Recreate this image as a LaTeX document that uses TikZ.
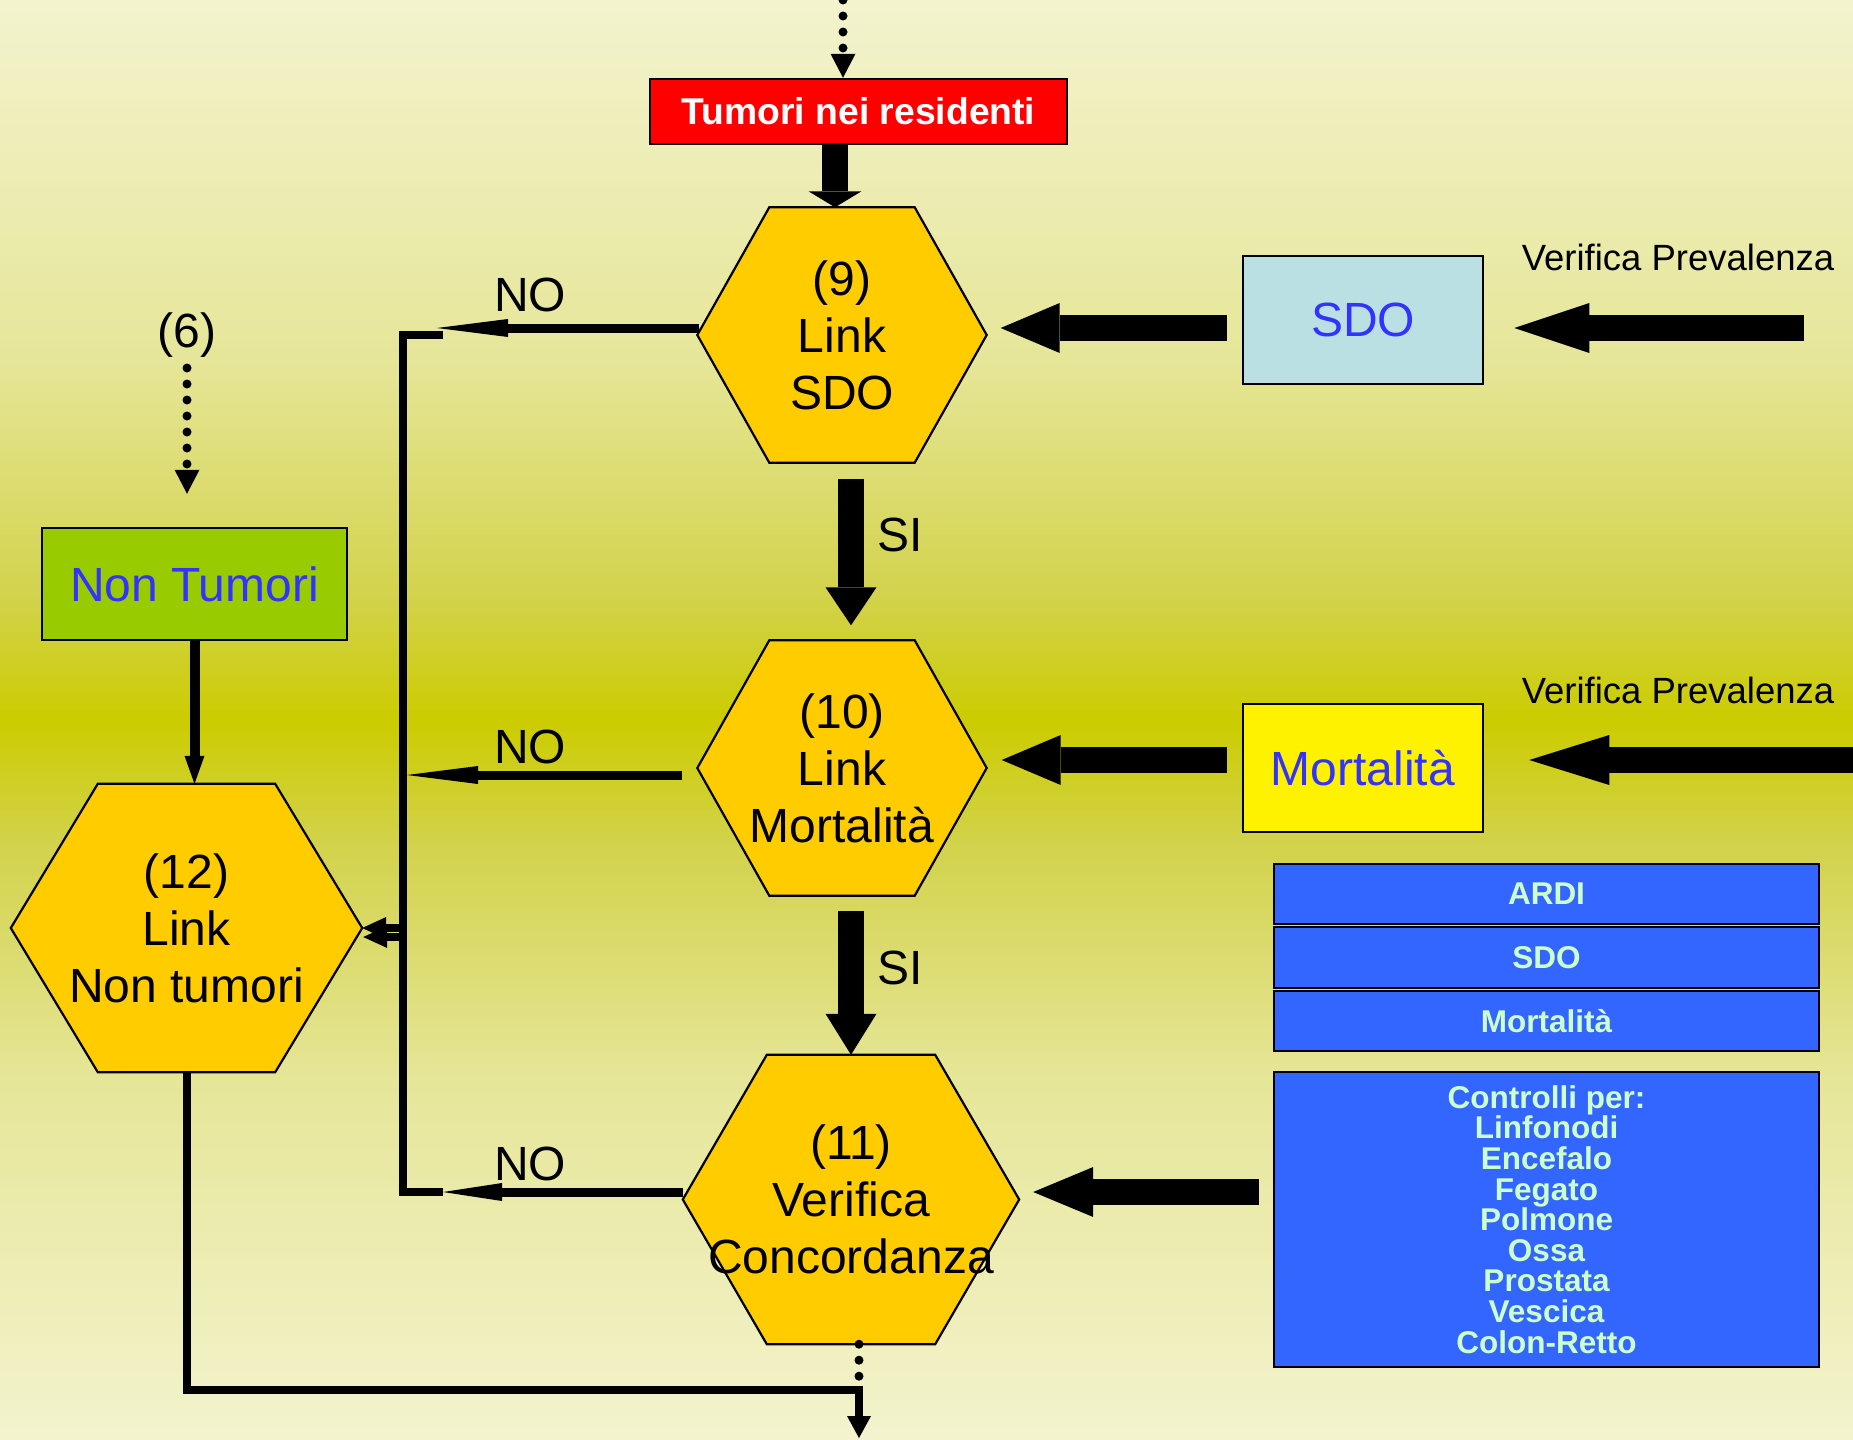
\documentclass[tikz,border=0pt]{standalone}
\usepackage{fontspec}
\setmainfont{Liberation Sans}
\usetikzlibrary{arrows.meta,calc}

\tikzset{
  hexframe/.style={inner sep=0pt, draw=none},
  hexa/.style={draw=black, line width=2.2pt, fill=hexfill, line join=miter},
  hextext/.style={align=center, inner sep=0pt, font=\fontsize{48}{57}\selectfont},
  plainbox/.style={draw=black, line width=2.5pt, inner sep=0pt, text=boxtext, font=\fontsize{48}{57}\selectfont},
  bluebox/.style={draw=black, line width=2.5pt, fill=bluefill, inner sep=0pt, minimum width=545pt, text=palegreen, align=center, font=\bfseries\fontsize{31.5}{30.6}\selectfont},
  answer/.style={inner sep=0pt, font=\fontsize{48}{57}\selectfont},
  prevnote/.style={inner sep=0pt, font=\fontsize{36.5}{44}\selectfont},
  fat/.style={line width=26pt},
  noline/.style={line width=9pt},
  bus/.style={line width=8pt, line join=miter},
  dotline/.style={line width=9pt, line cap=round, dash pattern=on 0pt off 16pt},
  dotarrow/.style={dotline, -{Triangle[width=25pt,length=24pt,line width=0pt]}},
}

\begin{document}
\begin{tikzpicture}[x=1pt, y=-1pt]
\definecolor{bgpale}{HTML}{F3F3CE}
\definecolor{bglight}{HTML}{E6E699}
\definecolor{bgmid}{HTML}{D2D24A}
\definecolor{bgdeep}{HTML}{CCCC00}
\definecolor{hexfill}{HTML}{FFCC00}
\definecolor{sdofill}{HTML}{BBE0E3}
\definecolor{ntgreen}{HTML}{99CC00}
\definecolor{bluefill}{HTML}{3366FF}
\definecolor{palegreen}{HTML}{CCFFCC}
\definecolor{boxtext}{HTML}{3333FF}
\useasboundingbox (0,0) rectangle (1853,1440);
% background
\fill[top color=bgpale, bottom color=bglight] (0,0) rectangle (1853,361);
\fill[top color=bglight, bottom color=bgmid] (0,360) rectangle (1853,601);
\fill[top color=bgmid, bottom color=bgdeep] (0,600) rectangle (1853,721);
\fill[top color=bgdeep, bottom color=bgmid] (0,720) rectangle (1853,841);
\fill[top color=bgmid, bottom color=bglight] (0,840) rectangle (1853,1081);
\fill[top color=bglight, bottom color=bgpale] (0,1080) rectangle (1853,1440);

% boxes
\node[plainbox, fill=red, text=white, minimum width=417pt, minimum height=65pt, font=\bfseries\fontsize{37.3}{45}\selectfont] (resid) at (858.5,111.5) {Tumori nei residenti};
\node[plainbox, fill=sdofill, minimum width=240pt, minimum height=128pt] (sdo) at (1363,320) {SDO};
\node[plainbox, fill=yellow, minimum width=240pt, minimum height=128pt] (mort) at (1363,768) {Mortalità};
\node[plainbox, fill=ntgreen, minimum width=305pt, minimum height=112pt] (nontum) at (194.5,584) {Non Tumori};

% hexagons
\node[hexframe, minimum width=289pt, minimum height=255pt] (h9) at (842,335) {};
\draw[hexa] (h9.west) -- ([xshift=72pt]h9.north west) -- ([xshift=-72pt]h9.north east) -- (h9.east) -- ([xshift=-72pt]h9.south east) -- ([xshift=72pt]h9.south west) -- cycle;
\node[hextext] (h9txt) at (h9) {(9)\\Link\\SDO};
\node[hexframe, minimum width=289pt, minimum height=255pt] (h10) at (842,768) {};
\draw[hexa] (h10.west) -- ([xshift=72pt]h10.north west) -- ([xshift=-72pt]h10.north east) -- (h10.east) -- ([xshift=-72pt]h10.south east) -- ([xshift=72pt]h10.south west) -- cycle;
\node[hextext] (h10txt) at (h10) {(10)\\Link\\Mortalità};
\node[hexframe, minimum width=336pt, minimum height=289pt] (h11) at (851,1199.5) {};
\draw[hexa] (h11.west) -- ([xshift=84pt]h11.north west) -- ([xshift=-84pt]h11.north east) -- (h11.east) -- ([xshift=-84pt]h11.south east) -- ([xshift=84pt]h11.south west) -- cycle;
\node[hextext] (h11txt) at (h11) {(11)\\Verifica\\Concordanza};
\node[hexframe, minimum width=351pt, minimum height=288pt] (h12) at (186.5,928) {};
\draw[hexa] (h12.west) -- ([xshift=87pt]h12.north west) -- ([xshift=-87pt]h12.north east) -- (h12.east) -- ([xshift=-87pt]h12.south east) -- ([xshift=87pt]h12.south west) -- cycle;
\node[hextext] (h12txt) at (h12) {(12)\\Link\\Non tumori};

% blue list
\node[bluebox, minimum height=60pt] (ardi) at (1546.5,894) {ARDI};
\node[bluebox, minimum height=61pt] (sdolist) at (1546.5,957.5) {SDO};
\node[bluebox, minimum height=60pt] (mortlist) at (1546.5,1021) {Mortalità};
\node[bluebox, minimum height=295pt] (ctrl) at (1546.5,1219.5) {Controlli per:\\Linfonodi\\Encefalo\\Fegato\\Polmone\\Ossa\\Prostata\\Vescica\\Colon-Retto};

% labels
\node[answer] (six) at (187,335) {(6)};
\node[answer] (no9lab) at (530,295) {NO};
\node[answer] (no10lab) at (530,747) {NO};
\node[answer] (no11lab) at (530,1164) {NO};
\node[answer] (si1lab) at (900,535) {SI};
\node[answer] (si2lab) at (900,968) {SI};
\node[prevnote] (vp1lab) at (1678,257) {Verifica Prevalenza};
\node[prevnote] (vp2lab) at (1678,690) {Verifica Prevalenza};

% free ends
\coordinate (entry) at (843,0);
\coordinate (vp1) at (1804,328);
\coordinate (vp2) at (1853,760);
\coordinate (no9end) at (437,328);
\coordinate (bus10) at (407,775);
\coordinate (no11end) at (443,1192);
\coordinate (bustop) at (403,335);
\coordinate (busbot) at (403,1192);
\coordinate (join) at (859,1390);

% dotted inputs
\draw[dotarrow] (entry) -- (entry |- resid.north);
\draw[dotarrow, shorten >=33pt] ($(six)+(0,33)$) -- (six |- nontum.north);
\draw[dotline] ($(h11.south)+(8,0)$) -- (join);

% main flow
\draw[fat, -{Triangle[width=53pt,length=16pt,line width=0pt]}] ($(resid.south)+(-23.5,0)$) -- ($(h9.north)+(-7,0)$);
\draw[fat, -{Triangle[width=51pt,length=38pt,line width=0pt]}, shorten <=16pt, shorten >=15pt] ($(h9.south)+(9,0)$) -- ($(h10.north)+(9,0)$);
\draw[fat, -{Triangle[width=51pt,length=41pt,line width=0pt]}, shorten <=15pt] ($(h10.south)+(9,0)$) -- (h11.north);

% sources
\draw[fat, -{Triangle[width=50pt,length=59pt,line width=0pt]}, shorten <=15pt, shorten >=14pt] ($(sdo.west)+(0,8)$) -- ($(h9.east)+(0,-7)$);
\draw[fat, -{Triangle[width=50pt,length=59pt,line width=0pt]}, shorten <=15pt, shorten >=15pt] ($(mort.west)+(0,-8)$) -- ($(h10.east)+(0,-8)$);
\draw[fat, -{Triangle[width=50pt,length=60pt,line width=0pt]}, shorten <=14pt, shorten >=14pt] ($(ctrl.west)+(0,-27.5)$) -- ($(h11.east)+(0,-7.5)$);
\draw[fat, -{Triangle[width=50pt,length=75pt,line width=0pt]}, shorten >=30pt] (vp1) -- ($(sdo.east)+(0,8)$);
\draw[fat, -{Triangle[width=50pt,length=80pt,line width=0pt]}, shorten >=45pt] (vp2) -- ($(mort.east)+(0,-8)$);

% NO branches
\draw[noline, -{Triangle[width=18pt,length=71pt,line width=0pt]}] ($(h9.west)+(2,-7)$) -- (no9end);
\draw[noline, -{Triangle[width=18pt,length=71pt,line width=0pt]}] ($(h10.west)+(-15,7)$) -- (bus10);
\draw[noline, -{Triangle[width=18pt,length=59pt,line width=0pt]}] ($(h11.west)+(0,-7.5)$) -- (no11end);
\draw[bus] (443,335) -- (bustop) -- (busbot) -- (no11end);
\draw[bus, -{Triangle[width=22pt,length=24pt,line width=0pt]}] (bustop |- h12.east) -- (h12.east);
\draw[bus, -{Triangle[width=22pt,length=24pt,line width=0pt]}] ($(bustop |- h12.east)+(0,9)$) -- ($(h12.east)+(1,9)$);

% non tumori
\draw[line width=10pt, -{Triangle[width=20pt,length=28pt,line width=0pt]}] (nontum.south) -- (nontum.south |- h12.north);
\draw[bus, -{Triangle[width=24pt,length=22pt,line width=0pt]}] (h12.south) -- (h12.south |- join) -- (join) -- ++(0,48);
\end{tikzpicture}
\end{document}
